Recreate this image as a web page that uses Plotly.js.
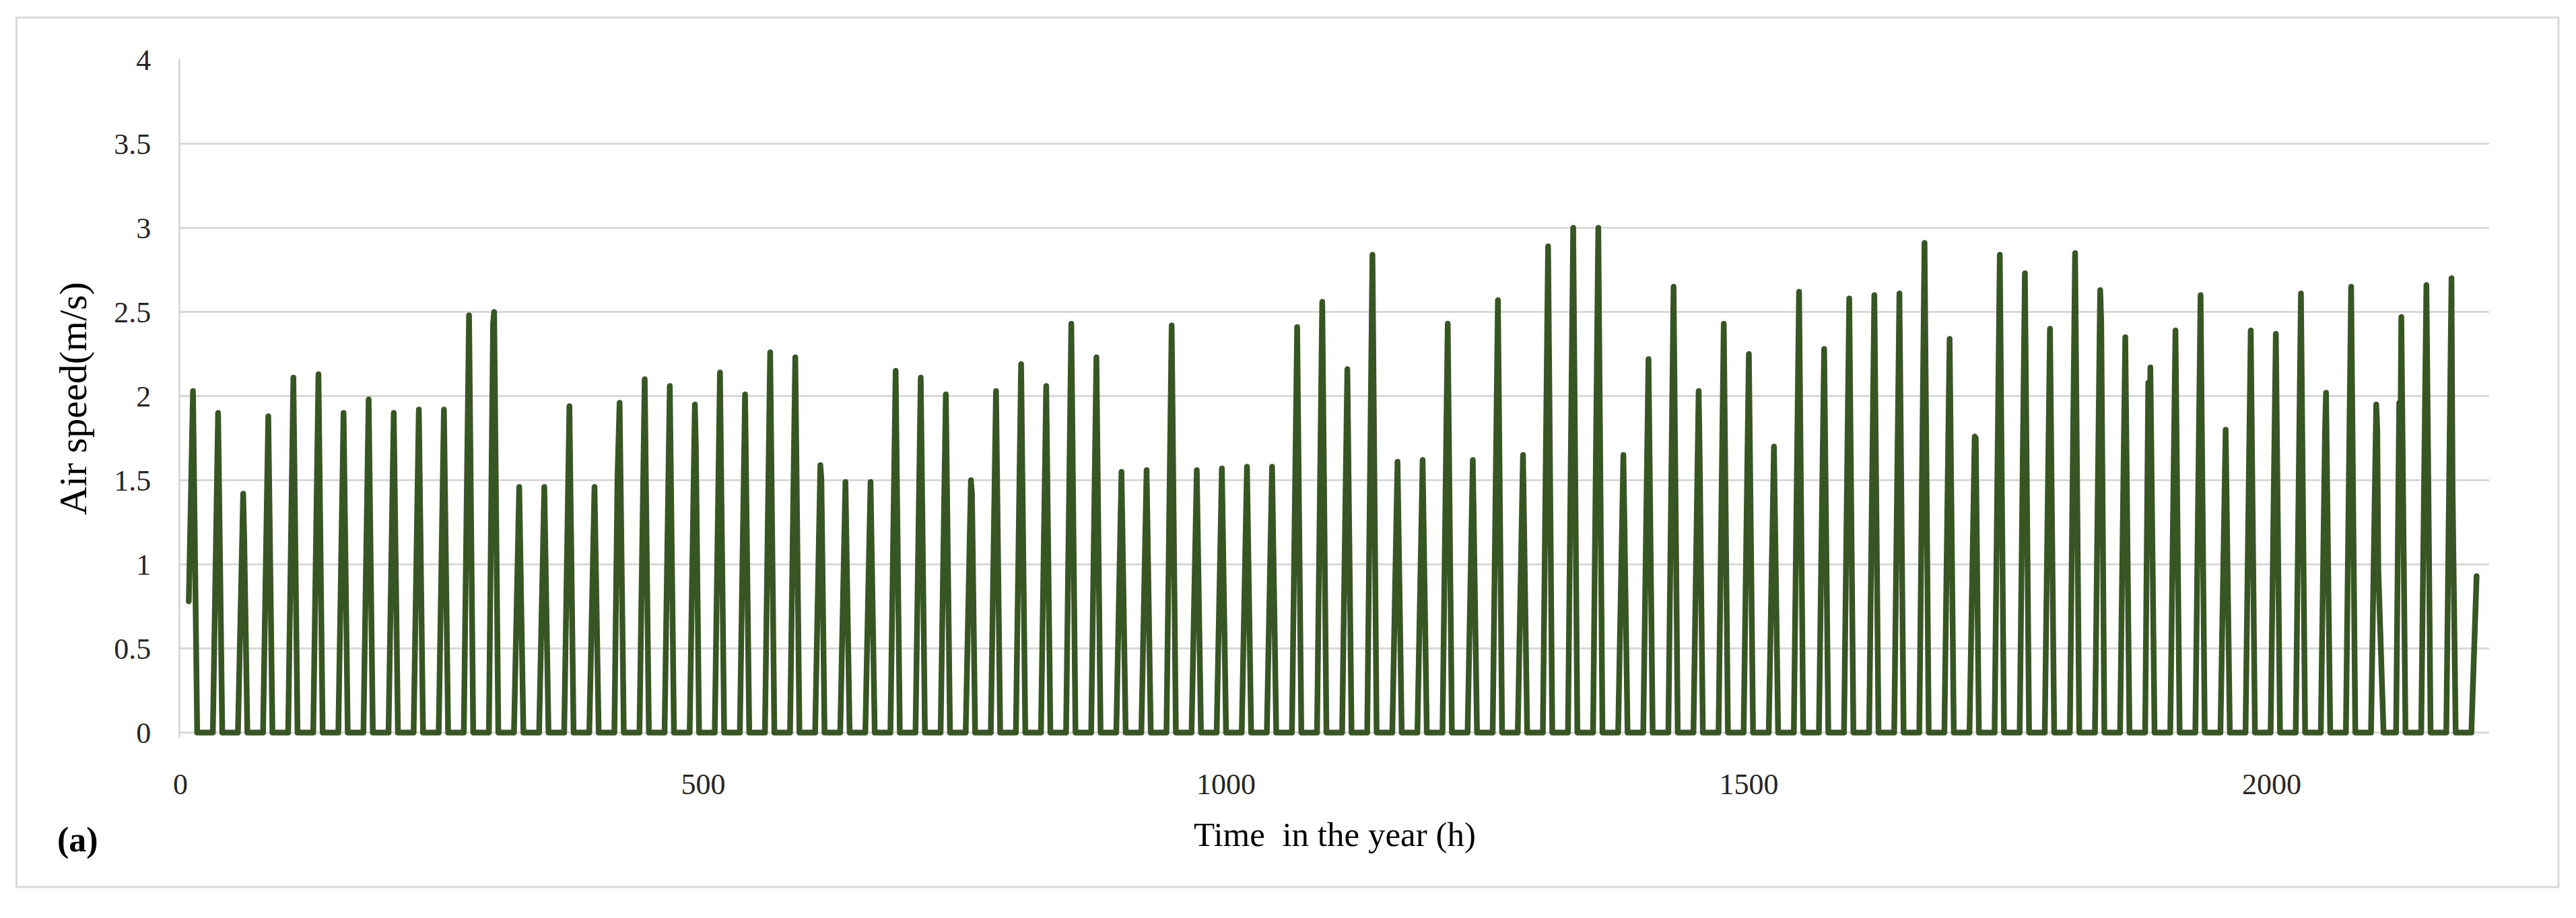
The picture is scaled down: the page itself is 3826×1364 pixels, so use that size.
<!DOCTYPE html>
<html>
<head>
<meta charset="utf-8">
<script src="https://cdn.plot.ly/plotly-3.0.1.min.js"></script>
<style>
  html, body { margin: 0; padding: 0; background: #fff; }
  #chart { width: 3826px; height: 1364px; }
  #chart .js-line { stroke-linejoin: round !important; stroke-linecap: round !important; }
</style>
</head>
<body>
<div id="chart"></div>
<script>
// daily maximum air speed (m/s), one value per day
var dayPeak = [2.03, 1.90, 1.42, 1.88, 2.11, 2.13, 1.90, 1.98, 1.90, 1.92,
               1.92, 2.48, 2.50, 1.46, 1.46, 1.94, 1.46, 1.96, 2.10, 2.06,
               1.95, 2.14, 2.01, 2.26, 2.23, 1.59, 1.49, 1.49, 2.15, 2.11,
               2.01, 1.50, 2.03, 2.19, 2.06, 2.43, 2.23, 1.55, 1.56, 2.42,
               1.56, 1.57, 1.58, 1.58, 2.41, 2.56, 2.16, 2.84, 1.61, 1.62,
               2.43, 1.62, 2.57, 1.65, 2.89, 3.00, 3.00, 1.65, 2.22, 2.65,
               2.03, 2.43, 2.25, 1.70, 2.62, 2.28, 2.58, 2.60, 2.61, 2.91,
               2.34, 1.76, 2.84, 2.73, 2.40, 2.85, 2.63, 2.35, 2.17, 2.39,
               2.60, 1.80, 2.39, 2.37, 2.61, 2.02, 2.65, 1.95, 2.47, 2.66,
               2.70, 0.93];

// hour of day when the fan starts, peaks and stops
var startHour = 7;
var peakHour = 12;
var stopHour = 16;

// odd readings inside some days: [day, hour of day, m/s]
var extraReadings = [
  [2, 13, 1.15], [11, 11, 2.40], [12, 11, 2.43], [17, 10, 1.52],
  [20, 13, 1.68], [25, 13, 1.50], [31, 10, 1.18], [31, 13, 1.42],
  [58, 10, 1.56], [60, 13, 1.63], [69, 11, 1.90], [71, 13, 1.75],
  [76, 13, 2.44], [78, 10, 2.08], [78, 11, 1.66], [85, 11, 1.78],
  [87, 13, 1.80], [87, 14, 0.97], [88, 10, 1.96], [88, 11, 1.62],
  [89, 14, 1.37], [90, 11, 2.35], [90, 13, 1.45]
];

// the record opens mid-morning, and day 87 dies away late
var firstReading = [8, 0.78];
var lateStop = {87: 19};

var xs = [], ys = [];
dayPeak.forEach(function (peak, d) {
  var pts = [];
  if (d === 0) pts.push(firstReading);
  else pts.push([startHour, 0]);
  pts.push([peakHour, peak]);
  extraReadings.forEach(function (r) {
    if (r[0] === d) pts.push([r[1], r[2]]);
  });
  if (d < dayPeak.length - 1) pts.push([lateStop[d] || stopHour, 0]);
  pts.sort(function (a, b) { return a[0] - b[0]; });
  pts.forEach(function (p) {
    xs.push(24 * d + p[0]);
    ys.push(p[1]);
  });
});

var serif = 'Liberation Serif, Times New Roman, serif';

var data = [{
  x: xs,
  y: ys,
  type: 'scatter',
  mode: 'lines',
  line: {color: '#375623', width: 8.5},
  hoverinfo: 'skip'
}];

var layout = {
  width: 3826,
  height: 1364,
  margin: {l: 268, r: 129, t: 88, b: 268},
  paper_bgcolor: '#fff',
  plot_bgcolor: '#fff',
  showlegend: false,
  xaxis: {
    range: [0, 2208],
    tickvals: [0, 500, 1000, 1500, 2000],
    showgrid: false,
    zeroline: false,
    showline: false,
    ticks: 'outside',
    ticklen: 30,
    tickcolor: 'rgba(0,0,0,0)',
    tickfont: {family: serif, size: 44, color: '#262626'},
    title: {text: 'Time\u00a0 in the year (h)', font: {family: serif, size: 51, color: '#000'}, standoff: 32},
    automargin: false
  },
  yaxis: {
    range: [-0.03, 4.002],
    tick0: 0,
    dtick: 0.5,
    showgrid: true,
    gridcolor: '#d9d9d9',
    gridwidth: 3,
    zeroline: true,
    zerolinecolor: '#d9d9d9',
    zerolinewidth: 3,
    showline: true,
    linecolor: '#d9d9d9',
    linewidth: 3,
    ticks: 'outside',
    ticklen: 32,
    tickcolor: 'rgba(0,0,0,0)',
    tickfont: {family: serif, size: 44, color: '#262626'},
    title: {text: 'Air speed(m/s)', font: {family: serif, size: 58, color: '#000'}, standoff: 22},
    automargin: false
  },
  annotations: [{
    xref: 'paper', yref: 'paper',
    x: -0.0446, y: -0.151,
    xanchor: 'center', yanchor: 'middle',
    text: '<b>(a)</b>',
    showarrow: false,
    font: {family: serif, size: 52, color: '#000'}
  }],
  shapes: [{
    type: 'rect',
    xref: 'paper', yref: 'paper',
    x0: -0.0710, x1: 1.0300, y0: -0.2202, y1: 1.0615,
    line: {color: '#d9d9d9', width: 3},
    fillcolor: 'rgba(0,0,0,0)',
    layer: 'below'
  }]
};

Plotly.newPlot('chart', data, layout, {staticPlot: true});
</script>
</body>
</html>
